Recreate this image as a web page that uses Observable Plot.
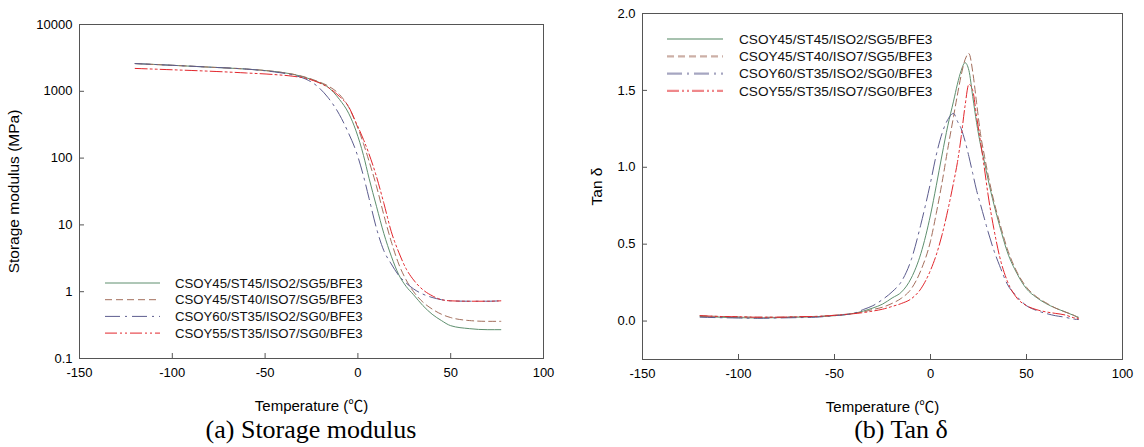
<!DOCTYPE html>
<html><head><meta charset="utf-8">
<script src="https://cdn.jsdelivr.net/npm/d3@7"></script>
<script src="https://cdn.jsdelivr.net/npm/@observablehq/plot@0.6"></script>
<style>
html,body{margin:0;padding:0;background:#fff;}
body{width:1144px;height:447px;position:relative;overflow:hidden;font-family:Arial,"Liberation Sans",sans-serif;}
.panel{position:absolute;top:0;}
.cap{position:absolute;font-family:"Times New Roman","Liberation Serif",serif;font-size:26px;white-space:nowrap;transform:translateX(-50%);color:#000;line-height:1;}
.leg{position:absolute;}
</style></head><body>
<div id="a" class="panel" style="left:0"></div>
<div id="b" class="panel" style="left:572px"></div>
<div class="cap" style="left:311px;top:417px">(a) Storage modulus</div>
<div class="cap" style="left:901px;top:417px">(b) Tan δ</div>
<script>
// ---- series ----
const seriesNames = ["CSOY45/ST45/ISO2/SG5/BFE3","CSOY45/ST40/ISO7/SG5/BFE3","CSOY60/ST35/ISO2/SG0/BFE3","CSOY55/ST35/ISO7/SG0/BFE3"];
const seriesColors = ["#5e8f6e","#a36e5c","#5c5c8e","#e2262c"];
const seriesDash = [null,"7,4","15,5,2,5","12,3,2,3,2,3"];

// ---- (a) storage modulus, MPa ----
const modT = [-120,-100,-80,-60,-45,-35,-28,-22,-16,-10,-5,-1,3,6,10,14,18,22,26,30,35,40,45,50,60,70,77];
const modE1 = [2600,2450,2300,2150,1980,1800,1600,1400,1150,760,470,255,110,50,19,7.4,3.4,1.8,1.2,0.9,0.62,0.46,0.37,0.31,0.28,0.27,0.27];
const modE2 = [2600,2450,2300,2150,1980,1800,1620,1420,1200,900,580,330,165,90,38,14,5.6,2.6,1.5,1.0,0.7,0.55,0.46,0.41,0.37,0.36,0.36];
const modE3 = [2600,2450,2300,2150,1950,1750,1520,1200,800,450,235,127,54,25,8.9,4.1,2.6,1.75,1.35,1.1,0.92,0.82,0.76,0.73,0.72,0.72,0.73];
const modE4 = [2200,2100,2000,1880,1780,1680,1560,1380,1140,840,590,340,190,115,53,21,7.9,3.9,2.2,1.5,1.07,0.87,0.76,0.73,0.72,0.72,0.73];

// ---- (b) tan delta ----
const tanT = [-120,-110,-100,-90,-80,-70,-60,-50,-40,-35,-30,-25,-20,-15,-10,-5,0,3,6,9,12,14,16,18,20,22,24,26,28,30,33,36,40,45,50,55,60,65,70,75,77];
const tan1 = [.03,.025,.022,.02,.022,.025,.028,.035,.05,.065,.085,.11,.15,.19,.28,.44,.69,.88,1.08,1.27,1.43,1.54,1.63,1.68,1.63,1.46,1.29,1.15,1.04,.92,.76,.62,.45,.31,.21,.155,.115,.085,.06,.035,.025];
const tan2 = [.035,.03,.028,.025,.025,.028,.03,.038,.05,.06,.075,.09,.115,.15,.21,.33,.52,.70,.90,1.12,1.33,1.47,1.60,1.70,1.74,1.62,1.42,1.22,1.08,.95,.78,.64,.47,.32,.22,.16,.12,.085,.06,.035,.02];
const tan3 = [.025,.022,.02,.018,.02,.022,.025,.035,.05,.075,.10,.14,.19,.26,.40,.63,.90,1.08,1.22,1.31,1.35,1.30,1.25,1.17,1.07,.96,.85,.76,.67,.58,.46,.36,.24,.16,.10,.07,.05,.035,.025,.012,.01];
const tan4 = [.035,.03,.028,.025,.025,.028,.03,.037,.048,.055,.065,.077,.095,.115,.145,.21,.33,.43,.56,.72,.90,1.03,1.20,1.40,1.54,1.50,1.33,1.17,1.0,.82,.60,.42,.26,.15,.10,.075,.06,.05,.04,.02,.015];

const xTicks = [-150,-100,-50,0,50,100];
const yTicksA = [0.1,1,10,100,1000,10000];
const yTicksB = [0,0.5,1.0,1.5,2.0];

const modSeries = [modE1,modE2,modE3,modE4];
const tanSeries = [tan1,tan2,tan3,tan4];
const modRows = modSeries.flatMap((arr,i)=>arr.map((v,j)=>({s:i,T:modT[j],v})));
const tanRows = tanSeries.flatMap((arr,i)=>arr.map((v,j)=>({s:i,T:tanT[j],v})));

const font = "Arial, 'Liberation Sans', sans-serif";
const labelFont = "Arial, 'Liberation Sans', 'Noto Sans CJK KR', sans-serif";
const lineMarks = rows => seriesNames.map((n,i)=>Plot.line(rows.filter(d=>d.s===i),{x:"T",y:"v",stroke:seriesColors[i],strokeWidth:1,strokeDasharray:seriesDash[i],curve:"monotone-x"}));

function axes(yTicks, yFmt, yLabel, yLabelOffset){
  return [
    Plot.frame({stroke:"#555"}),
    // inward tick marks
    Plot.axisX({ticks:xTicks,tickSize:5,dy:-5,tickFormat:()=>"",label:null,stroke:"#555"}),
    Plot.axisY({ticks:yTicks,tickSize:5,dx:5,tickFormat:()=>"",label:null,stroke:"#555"}),
    // tick labels
    Plot.axisX({ticks:xTicks,tickSize:0,tickPadding:9,tickFormat:d=>String(d),label:null,fontSize:13,fill:"#000"}),
    Plot.axisY({ticks:yTicks,tickSize:0,tickPadding:7,tickFormat:yFmt,label:null,fontSize:13,fill:"#000"}),
    // axis titles
    Plot.axisX({ticks:[],tickSize:0,label:"Temperature (℃)",labelAnchor:"center",labelOffset:52,labelArrow:"none",fontSize:15,fontFamily:labelFont,fill:"#000"}),
    Plot.axisY({ticks:[],tickSize:0,label:yLabel,labelAnchor:"center",labelOffset:yLabelOffset,labelArrow:"none",fontSize:15.5,fill:"#000"})
  ];
}

const plotA = Plot.plot({
  width:570, height:415, marginLeft:79, marginRight:27, marginTop:24, marginBottom:57,
  style:{fontFamily:font,color:"#000",background:"transparent"},
  x:{domain:[-150,100]},
  y:{type:"log",domain:[0.1,10000]},
  marks:[
    ...lineMarks(modRows),
    ...axes(yTicksA, d=>String(d), "Storage modulus (MPa)", 72)
  ]
});
document.getElementById("a").appendChild(plotA);

const plotB = Plot.plot({
  width:572, height:415, marginLeft:70, marginRight:22, marginTop:13, marginBottom:56,
  style:{fontFamily:font,color:"#000",background:"transparent"},
  x:{domain:[-150,100]},
  y:{domain:[-0.25,2.0]},
  marks:[
    ...lineMarks(tanRows),
    ...axes(yTicksB, d=>d.toFixed(1), "Tan δ", 52)
  ]
});
document.getElementById("b").appendChild(plotB);

// ---- legends ----
function legend(left, top, rowH, lineLen, gap, fs, sw, op){
  const w = 300, h = rowH*4+10;
  const div = d3.select("body").append("div").attr("class","leg").style("left",left+"px").style("top",top+"px");
  const svg = div.append("svg").attr("width",w).attr("height",h).style("overflow","visible");
  seriesNames.forEach((n,i)=>{
    const y = 5 + i*rowH;
    svg.append("line").attr("x1",0).attr("x2",lineLen).attr("y1",y).attr("y2",y)
      .attr("stroke",seriesColors[i]).attr("stroke-width",sw).attr("stroke-opacity",op)
      .attr("stroke-dasharray",seriesDash[i]);
    svg.append("text").attr("x",lineLen+gap).attr("y",y).attr("dy","0.35em")
      .attr("font-family",font).attr("font-size",fs).attr("fill","#111").text(n);
  });
}
legend(105, 278, 16.7, 55, 15, 13.2, 1, 1);
legend(667, 34, 17.3, 56, 16, 13.6, 2.2, 0.55);
</script>
</body></html>
